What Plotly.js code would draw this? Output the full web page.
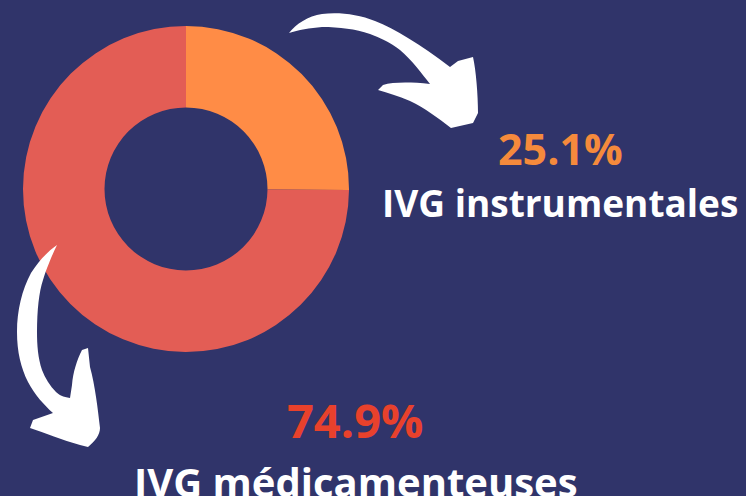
<!DOCTYPE html>
<html>
<head>
<meta charset="utf-8">
<script src="https://cdn.plot.ly/plotly-3.0.1.min.js"></script>
<style>html,body{margin:0;padding:0;background:#30346a;}#chart{width:746px;height:496px;}</style>
</head>
<body>
<div id="chart"></div>
<script>
const labels = ["IVG instrumentales", "IVG médicamenteuses"];
const values = [25.1, 74.9];
const sliceColors = ["#FF8C46", "#E35D55"];
const valueLabels = ["25.1%", "74.9%"];
const valueColors = ["#F58A3C", "#E8412C"];

const W = 746, H = 496;
const bg = "#30346a";

// top-right arrow outline (pixel coords on hidden axes)
const arrow1 = "M289,33 C296,24 308,16 322,14 C338,12 358,14 375,21 C395,29 420,44 450,67 " +
  "L458,61 L473,57 C476,70 478,95 478,113 L473,123 L451,128 " +
  "C438,118 425,108 410,101 C398,96 388,93 378,90 L383,85 C393,82 410,82 430,84 " +
  "C422,74 412,60 400,50 C390,42 380,38 370,34 C355,29 340,27 322,27 C310,28 298,30 289,33 Z";

// bottom-left arrow outline
const arrow2 = "M57,245 C47,252 38,262 31,273 C22,290 17,310 17,332 C17,352 21,368 28,382 " +
  "C35,395 44,405 53,413 L33,420 L30,428 C45,433 62,440 80,445 L88,447 " +
  "C95,441 100,435 100,428 C98,410 95,385 90,367 L88,348 L82,350 " +
  "C77,360 73,372 72,385 L70,398 C63,397 59,395 56,392 C50,386 45,378 42,370 " +
  "C38,358 37,345 37,332 C37,310 39,292 43,280 C46,270 52,255 57,245 Z";

const data = [
  {
    type: "pie",
    labels: labels,
    values: values,
    marker: {colors: sliceColors, line: {width: 0}},
    hole: 0.5,
    sort: false,
    direction: "clockwise",
    rotation: 0,
    textinfo: "none",
    hoverinfo: "none",
    showlegend: false,
    domain: {x: [23 / W, 349 / W], y: [1 - 352 / H, 1 - 26 / H]}
  },
  {type: "scatter", x: [], y: [], showlegend: false, hoverinfo: "none"}
];

const layout = {
  width: W, height: H,
  margin: {l: 0, r: 0, t: 0, b: 0},
  paper_bgcolor: bg,
  plot_bgcolor: "rgba(0,0,0,0)",
  showlegend: false,
  xaxis: {range: [0, W], visible: false, fixedrange: true},
  yaxis: {range: [H, 0], visible: false, fixedrange: true},
  shapes: [
    {type: "path", xref: "x", yref: "y", path: arrow1, fillcolor: "#ffffff", line: {width: 0}},
    {type: "path", xref: "x", yref: "y", path: arrow2, fillcolor: "#ffffff", line: {width: 0}}
  ],
  annotations: [
    {xref: "x", yref: "y", x: 560, y: 148, text: "<b>" + valueLabels[0] + "</b>", showarrow: false,
     xanchor: "center", yanchor: "middle", font: {family: "Open Sans", size: 43, color: valueColors[0]}},
    {xref: "x", yref: "y", x: 560, y: 202, text: "<b>" + labels[0] + "</b>", showarrow: false,
     xanchor: "center", yanchor: "middle", font: {family: "Open Sans", size: 37, color: "#ffffff"}},
    {xref: "x", yref: "y", x: 355, y: 420, text: "<b>" + valueLabels[1] + "</b>", showarrow: false,
     xanchor: "center", yanchor: "middle", font: {family: "Open Sans", size: 47, color: valueColors[1]}},
    {xref: "x", yref: "y", x: 356, y: 481, text: "<b>" + labels[1] + "</b>", showarrow: false,
     xanchor: "center", yanchor: "middle", font: {family: "Open Sans", size: 40, color: "#ffffff"}}
  ]
};

Plotly.newPlot("chart", data, layout, {staticPlot: true, displayModeBar: false});
</script>
</body>
</html>
